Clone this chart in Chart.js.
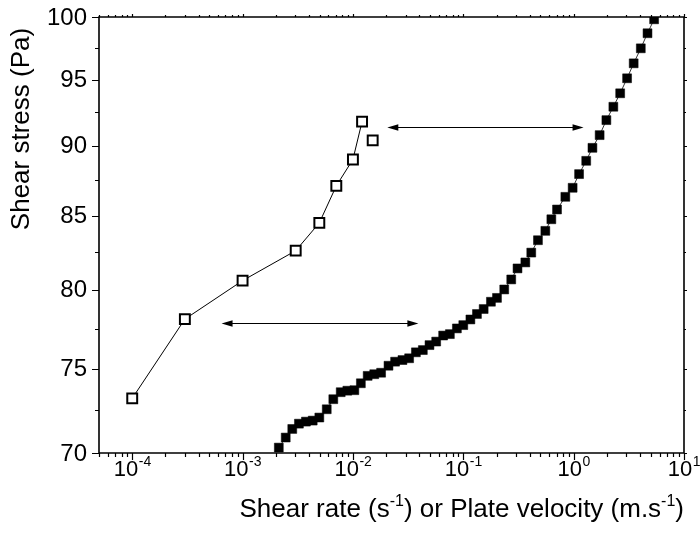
<!DOCTYPE html>
<html>
<head>
<meta charset="utf-8">
<script src="https://cdn.jsdelivr.net/npm/chart.js@4.4.1/dist/chart.umd.min.js"></script>
<style>
  html, body { margin: 0; padding: 0; background: #fff; }
  #wrap { width: 700px; height: 534px; }
</style>
</head>
<body>
<div id="wrap"><canvas id="c" width="700" height="534"></canvas></div>
<script>
// ---- Data ----
const xOpen = [1e-4, 3e-4, 1e-3, 3.03e-3, 4.96e-3, 7.07e-3, 1e-2, 0.0121, 0.0151];
const yOpen = [73.2, 78.1, 80.6, 82.6, 84.5, 87.1, 89.0, 91.8, 90.4];

const xFilled = [0.00213,0.00246,0.00282,0.00324,0.00375,0.00432,0.00496,0.00579,0.00664,0.00775,
  0.0089,0.0103,0.0118,0.0136,0.0156,0.0180,0.0210,0.0241,0.0281,0.0323,
  0.0372,0.0430,0.0494,0.0568,0.0657,0.0756,0.0875,0.100,0.116,0.133,
  0.153,0.178,0.202,0.235,0.272,0.310,0.365,0.413,0.475,0.554,
  0.628,0.707,0.841,0.979,1.12,1.30,1.48,1.72,1.98,2.29,
  2.64,3.05,3.50,4.06,4.67,5.36];
const yFilled = [70.31,70.89,71.39,71.70,71.82,71.88,72.06,72.55,73.15,73.57,
  73.66,73.69,74.11,74.56,74.66,74.75,75.18,75.43,75.53,75.64,
  76.01,76.15,76.46,76.68,77.06,77.15,77.51,77.72,78.08,78.43,
  78.75,79.22,79.47,80.02,80.68,81.41,81.81,82.47,83.31,83.95,
  84.75,85.43,86.32,86.96,87.94,88.90,89.85,90.79,91.91,92.92,
  93.95,95.11,96.28,97.47,98.68,99.81];

// double-headed arrows (data coordinates)
const arrowX1 = [6.45e-4, 0.0205];
const arrowX2 = [0.0392, 1.23];
const arrowY  = [77.83, 91.42];

// axes
const xMin = 5e-5, xMax = 10;
const yMin = 70, yMax = 100;
const xMajorTicks = [1e-4, 1e-3, 1e-2, 1e-1, 1, 10];
const xTickExp = ['-4', '-3', '-2', '-1', '0', '1'];
const yMajorTicks = [70, 75, 80, 85, 90, 95, 100];
const yMinorTicks = [72.5, 77.5, 82.5, 87.5, 92.5, 97.5];
const yTitle = 'Shear stress (Pa)';
const xTitleParts = [['Shear rate (s', false], ['-1', true], [') or Plate velocity (m.s', false], ['-1', true], [')', false]];

const FONT = '"Liberation Sans", Arial, Helvetica, sans-serif';

function xMinorTicks() {
  const out = [];
  for (let e = -5; e <= 0; e++) {
    for (let m = 2; m <= 9; m++) {
      const v = m * Math.pow(10, e);
      if (v >= xMin && v <= xMax) out.push(v);
    }
  }
  return out;
}

const axesPlugin = {
  id: 'originAxes',
  beforeDatasetsDraw(chart) {
    const ctx = chart.ctx;
    const xs = chart.scales.x, ys = chart.scales.y;
    ctx.save();
    ctx.strokeStyle = '#000';
    ctx.fillStyle = '#000';
    ctx.lineWidth = 1;
    for (let i = 0; i < arrowY.length; i++) {
      const x1 = xs.getPixelForValue(arrowX1[i]);
      const x2 = xs.getPixelForValue(arrowX2[i]);
      const y = Math.round(ys.getPixelForValue(arrowY[i])) + 0.5;
      const L = 11, H = 3.3;
      ctx.beginPath();
      ctx.moveTo(x1 + L - 1, y); ctx.lineTo(x2 - L + 1, y); ctx.stroke();
      ctx.beginPath();
      ctx.moveTo(x1, y); ctx.lineTo(x1 + L, y - H); ctx.lineTo(x1 + L, y + H); ctx.closePath(); ctx.fill();
      ctx.beginPath();
      ctx.moveTo(x2, y); ctx.lineTo(x2 - L, y - H); ctx.lineTo(x2 - L, y + H); ctx.closePath(); ctx.fill();
    }
    ctx.restore();
  },
  afterDraw(chart) {
    const ctx = chart.ctx;
    const a = chart.chartArea;
    const xs = chart.scales.x, ys = chart.scales.y;
    ctx.save();
    ctx.strokeStyle = '#000';
    ctx.fillStyle = '#000';
    ctx.lineWidth = 1.6;
    // frame
    ctx.beginPath();
    ctx.rect(a.left, a.top, a.right - a.left, a.bottom - a.top);
    ctx.stroke();

    // x ticks
    ctx.lineWidth = 1.2;
    ctx.beginPath();
    xMajorTicks.forEach(v => {
      const px = Math.round(xs.getPixelForValue(v)) + 0.5;
      ctx.moveTo(px, a.bottom); ctx.lineTo(px, a.bottom + 7);
      ctx.moveTo(px, a.top); ctx.lineTo(px, a.top - 3);
    });
    xMinorTicks().forEach(v => {
      const px = Math.round(xs.getPixelForValue(v)) + 0.5;
      ctx.moveTo(px, a.bottom); ctx.lineTo(px, a.bottom + 4);
      ctx.moveTo(px, a.top); ctx.lineTo(px, a.top - 2);
    });
    // y ticks
    yMajorTicks.forEach(v => {
      const py = Math.round(ys.getPixelForValue(v)) + 0.5;
      ctx.moveTo(a.left, py); ctx.lineTo(a.left - 7, py);
      ctx.moveTo(a.right, py); ctx.lineTo(a.right + 3, py);
    });
    yMinorTicks.forEach(v => {
      const py = Math.round(ys.getPixelForValue(v)) + 0.5;
      ctx.moveTo(a.left, py); ctx.lineTo(a.left - 4, py);
      ctx.moveTo(a.right, py); ctx.lineTo(a.right + 2, py);
    });
    ctx.stroke();

    // y tick labels
    ctx.font = '24px ' + FONT;
    ctx.textAlign = 'right';
    ctx.textBaseline = 'middle';
    yMajorTicks.forEach(v => {
      const py = ys.getPixelForValue(v);
      ctx.fillText(String(v), a.left - 12, py + 1);
    });

    // x tick labels: 10 with superscript exponent
    const baseFont = '22px ' + FONT, supFont = '14px ' + FONT;
    ctx.textBaseline = 'alphabetic';
    ctx.textAlign = 'left';
    xMajorTicks.forEach((v, i) => {
      const px = xs.getPixelForValue(v);
      ctx.font = baseFont;
      const w1 = ctx.measureText('10').width;
      ctx.font = supFont;
      const w2 = ctx.measureText(xTickExp[i]).width;
      const x0 = px - (w1 + w2) / 2;
      const by = a.bottom + 23;
      ctx.font = baseFont;
      ctx.fillText('10', x0, by);
      ctx.font = supFont;
      ctx.fillText(xTickExp[i], x0 + w1 + 0.5, by - 10);
    });

    // x title with superscripts, right aligned to plot edge
    const tFont = '26px ' + FONT, tSup = '16px ' + FONT;
    let total = 0;
    xTitleParts.forEach(([t, sup]) => { ctx.font = sup ? tSup : tFont; total += ctx.measureText(t).width; });
    let tx = a.right - total;
    const ty = a.bottom + 64;
    xTitleParts.forEach(([t, sup]) => {
      ctx.font = sup ? tSup : tFont;
      ctx.fillText(t, tx, sup ? ty - 11 : ty);
      tx += ctx.measureText(t).width;
    });

    // y title (rotated)
    ctx.font = '26px ' + FONT;
    ctx.translate(22, a.top + 112);
    ctx.rotate(-Math.PI / 2);
    ctx.textAlign = 'center';
    ctx.textBaseline = 'middle';
    ctx.fillText(yTitle, 0, 0);
    ctx.restore();
  }
};

const openPoints = xOpen.map((x, i) => ({ x, y: yOpen[i] }));
const filledPoints = xFilled.map((x, i) => ({ x, y: yFilled[i] }));

new Chart(document.getElementById('c'), {
  type: 'scatter',
  data: {
    datasets: [
      {
        label: 'filled',
        data: filledPoints,
        showLine: true,
        borderColor: '#000',
        borderWidth: 0.8,
        backgroundColor: '#000',
        pointStyle: 'rect',
        pointRadius: 6.3,
        pointBorderWidth: 0.5,
        pointBorderColor: '#000',
        pointBackgroundColor: '#000',
        pointHoverRadius: 6
      },
      {
        label: 'open',
        data: openPoints,
        showLine: true,
        borderColor: '#000',
        borderWidth: 1,
        segment: {
          borderColor: ctx => ctx.p1DataIndex === 8 ? 'rgba(0,0,0,0)' : '#000'
        },
        pointStyle: 'rect',
        pointRadius: 7,
        pointBorderWidth: 2,
        pointBorderColor: '#000',
        pointBackgroundColor: '#fff',
        pointHoverRadius: 7
      }
    ]
  },
  options: {
    responsive: false,
    animation: false,
    events: [],
    layout: { padding: { left: 99, right: 16, top: 17, bottom: 81 } },
    plugins: { legend: { display: false }, tooltip: { enabled: false } },
    scales: {
      x: { type: 'logarithmic', min: xMin, max: xMax, display: false },
      y: { type: 'logarithmic', min: yMin, max: yMax, display: false }
    }
  },
  plugins: [axesPlugin]
});
</script>
</body>
</html>
